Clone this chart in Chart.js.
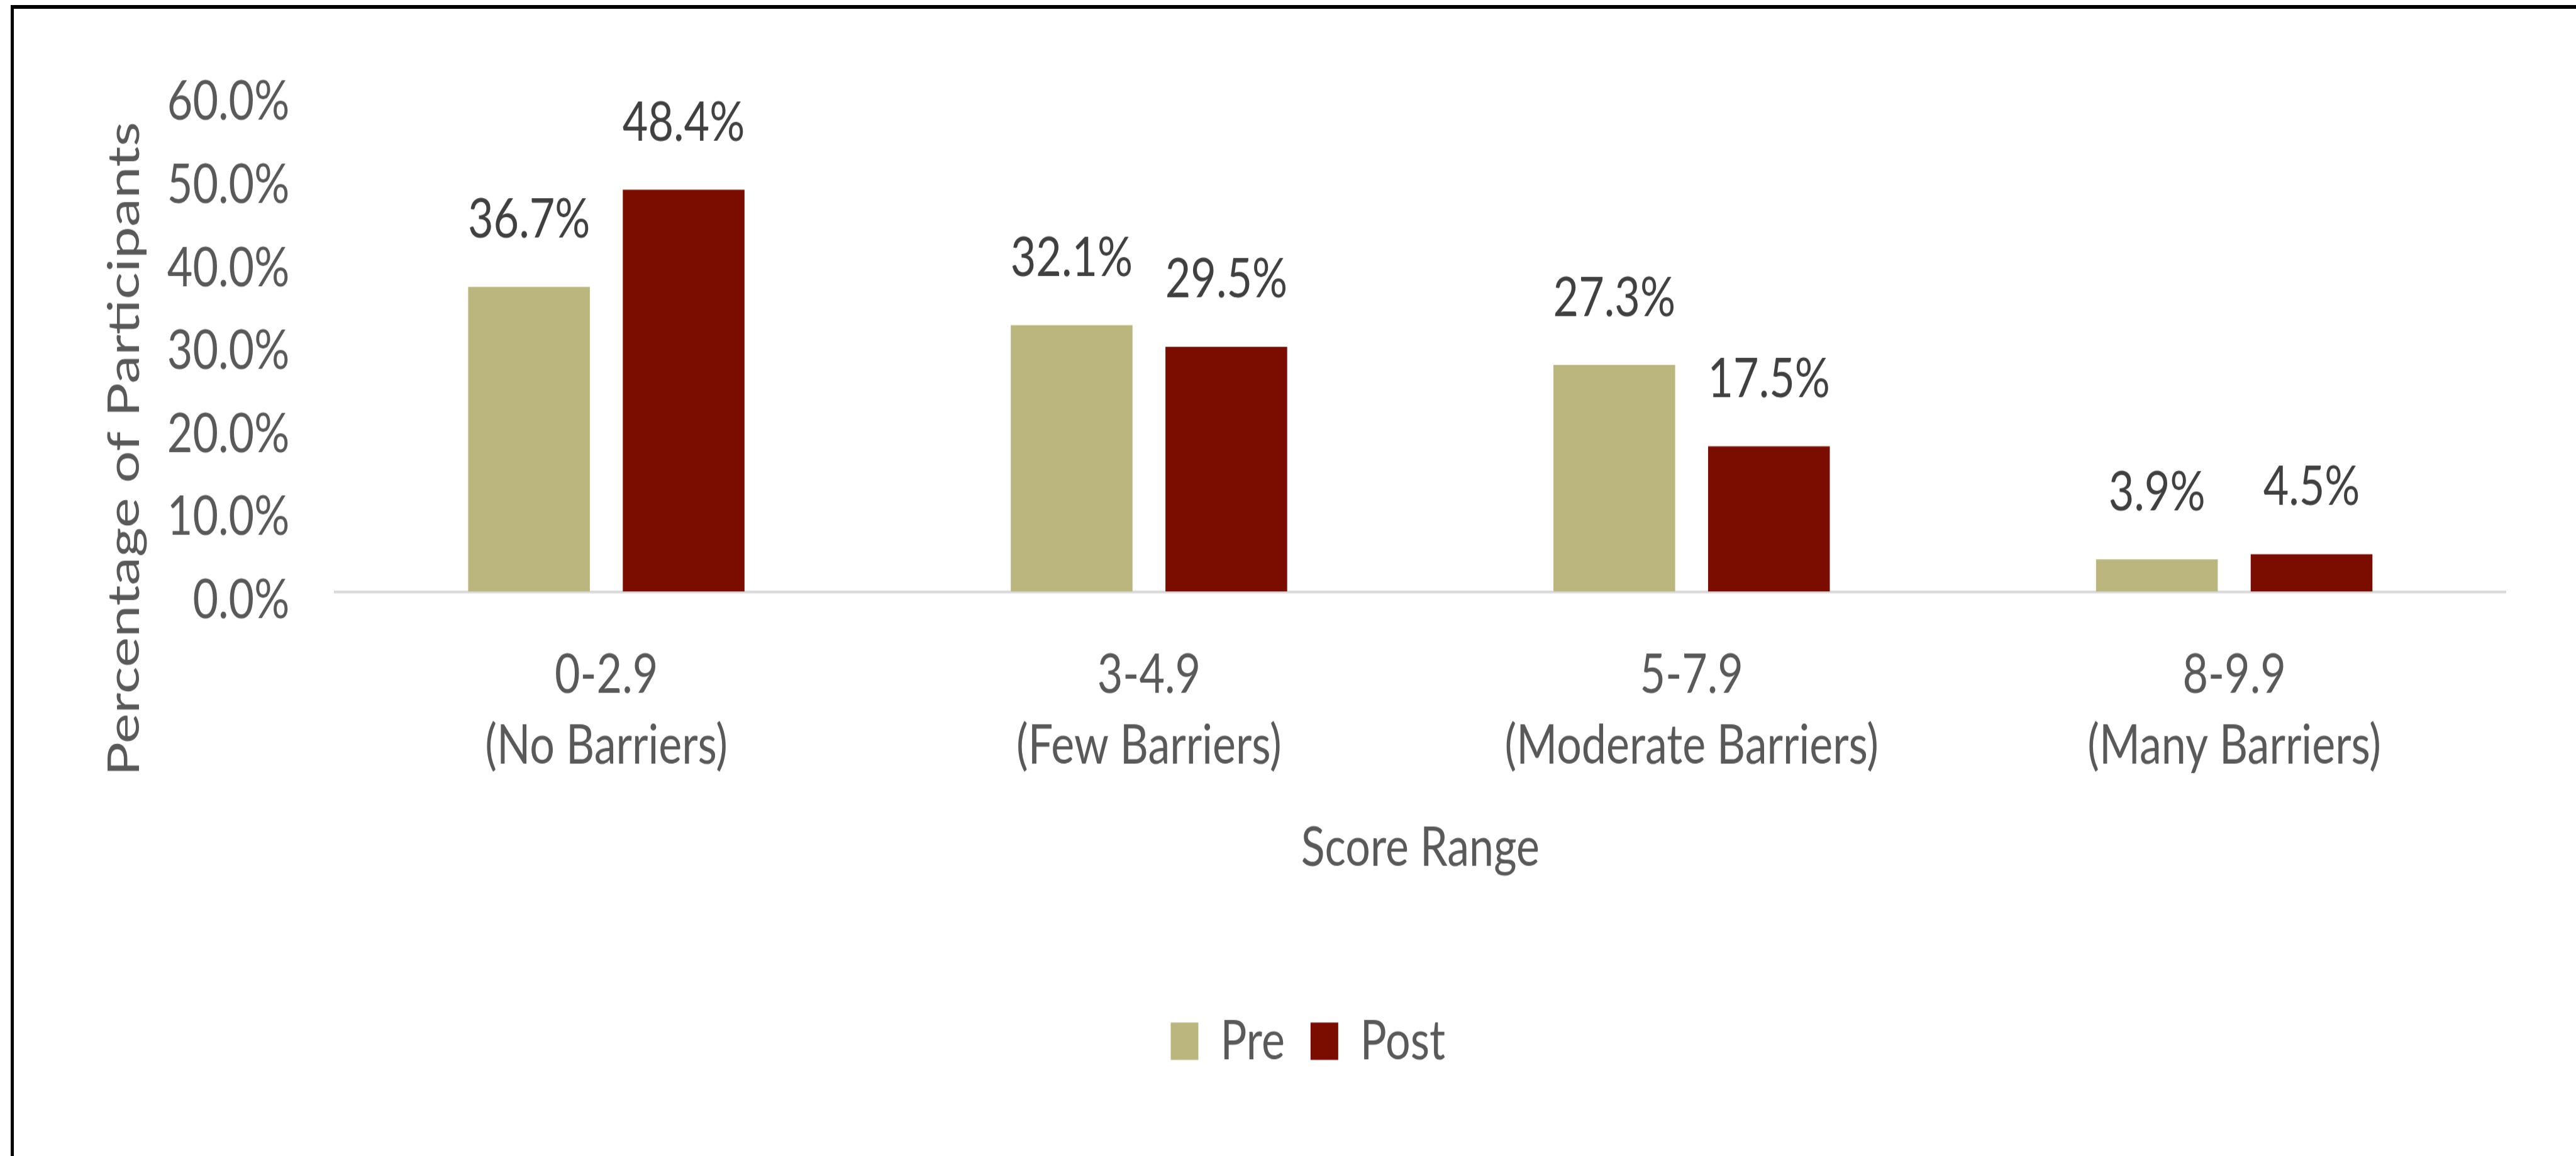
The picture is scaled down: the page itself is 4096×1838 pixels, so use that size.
<!DOCTYPE html>
<html>
<head>
<meta charset="utf-8">
<script src="https://cdn.jsdelivr.net/npm/chart.js@4.4.0/dist/chart.umd.min.js"></script>
<style>
  html, body { margin: 0; padding: 0; background: #fff; overflow: hidden; width: 4096px; height: 1838px; }
  .edge { position: absolute; background: #000; }
  #edgeTop { left: 17px; top: 7.6px; width: 4079px; height: 6px; }
  #edgeLeft { left: 17px; top: 7.6px; width: 5px; height: 1831px; }
  #chart { position: absolute; left: 0; top: 0; }
</style>
</head>
<body>
<div class="edge" id="edgeTop"></div>
<div class="edge" id="edgeLeft"></div>
<!-- drawn 1470 tall and shown 1838 tall, like the squeezed original -->
<canvas id="chart" width="4096" height="1470" style="width:4096px;height:1838px"></canvas>
<script>
const categories = [
    ["0-2.9", "(No Barriers)"],
    ["3-4.9", "(Few Barriers)"],
    ["5-7.9", "(Moderate Barriers)"],
    ["8-9.9", "(Many Barriers)"]
];
const preValues = [36.7, 32.1, 27.3, 3.9];
const postValues = [48.4, 29.5, 17.5, 4.5];
const yTicks = [0, 10, 20, 30, 40, 50, 60];
const yAxisTitle = "Percentage of Participants";
const xAxisTitle = "Score Range";

const FONT = "Lato, 'Open Sans', sans-serif";
const SIZE = 70;

// value labels above each bar
const valueLabels = {
    id: "valueLabels",
    afterDatasetsDraw(chart) {
        const ctx = chart.ctx;
        ctx.save();
        ctx.font = SIZE + "px " + FONT;
        ctx.fillStyle = "#404040";
        ctx.textAlign = "center";
        ctx.textBaseline = "alphabetic";
        chart.data.datasets.forEach((ds, i) => {
            chart.getDatasetMeta(i).data.forEach((bar, j) => {
                ctx.fillText(ds.data[j].toFixed(1) + "%", bar.x, bar.y - 62.5);
            });
        });
        ctx.restore();
    }
};

// rotated y axis title, sits lower than the axis centre in the original
const yTitle = {
    id: "yTitle",
    afterDraw(chart) {
        const ctx = chart.ctx;
        ctx.save();
        ctx.translate(221, 571);
        ctx.rotate(-Math.PI / 2);
        ctx.scale(1.035, 1);
        ctx.font = SIZE + "px " + FONT;
        ctx.fillStyle = "#595959";
        ctx.textAlign = "center";
        ctx.textBaseline = "alphabetic";
        ctx.fillText(yAxisTitle, 0, 0);
        ctx.restore();
    }
};

new Chart(document.getElementById("chart"), {
    type: "bar",
    data: {
        labels: categories,
        datasets: [
            {
                label: "Pre",
                data: preValues,
                backgroundColor: "#BAB67D",
                categoryPercentage: 0.57,
                barPercentage: 0.787
            },
            {
                label: "Post",
                data: postValues,
                backgroundColor: "#7A0C00",
                categoryPercentage: 0.57,
                barPercentage: 0.787
            }
        ]
    },
    options: {
        responsive: false,
        devicePixelRatio: 1,
        animation: false,
        layout: { padding: { left: 175.6, right: 112, top: 118.9, bottom: 101 } },
        plugins: {
            tooltip: { enabled: false },
            legend: {
                position: "bottom",
                labels: {
                    boxWidth: 44,
                    boxHeight: 47.3,
                    padding: 41,
                    color: "#595959",
                    font: { family: FONT, size: SIZE }
                }
            }
        },
        scales: {
            x: {
                grid: { display: true, drawOnChartArea: false, drawTicks: false },
                border: { display: true, color: "#D9D9D9", width: 3.4 },
                ticks: {
                    color: "#595959",
                    font: { family: FONT, size: SIZE, lineHeight: 90 / SIZE },
                    padding: 61,
                    maxRotation: 0,
                    autoSkip: false
                },
                title: {
                    display: true,
                    text: xAxisTitle,
                    color: "#595959",
                    font: { family: FONT, size: SIZE, lineHeight: 1.2 },
                    padding: { top: 0, bottom: 128 }
                },
                afterFit(scale) { scale.height = 495.7; }
            },
            y: {
                min: 0,
                max: 60,
                grid: { display: false, drawTicks: false },
                border: { display: false },
                ticks: {
                    color: "#595959",
                    font: { family: FONT, size: SIZE },
                    padding: 72.4,
                    labelOffset: 11,
                    callback: v => v.toFixed(1) + "%"
                },
                afterBuildTicks(scale) {
                    scale.ticks = yTicks.map(v => ({ value: v }));
                },
                afterFit(scale) { scale.width = 357.1; }
            }
        }
    },
    plugins: [valueLabels, yTitle]
});
</script>
</body>
</html>
